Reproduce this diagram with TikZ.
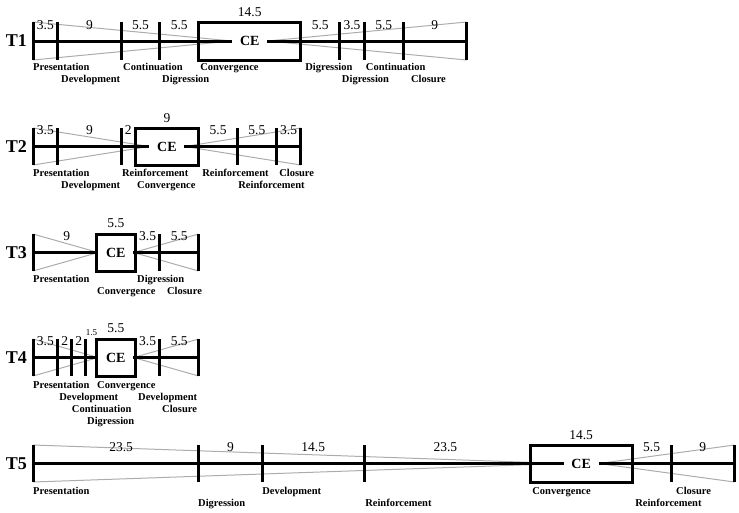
\documentclass[tikz,border=0pt]{standalone}
\usepackage{fontspec}
\setmainfont{Liberation Serif}
\usetikzlibrary{backgrounds}

\begin{document}
\begin{tikzpicture}[x=7.05pt, y=-1pt,
    bar/.style={line width=3pt},
    funnel/.style={gray!65, line width=1pt},
    num/.style={font=\fontsize{13.5}{14}\selectfont, inner sep=0pt},
    part/.style={font=\bfseries\fontsize{10.5}{11}\selectfont, anchor=base west, inner sep=0pt},
    ce/.style={fill=white, font=\bfseries\fontsize{14}{15}\selectfont, minimum width=35pt, inner sep=1pt},
    tl/.style={font=\bfseries\fontsize{18}{20}\selectfont, anchor=east, inner sep=0pt}]
    \useasboundingbox (-4.681,0) rectangle (100.14,512);
    % T1
    \node[tl] (t1) at (-0.85,41) {T1};
    \draw[bar](0,41)--(61.5,41);
    \draw[bar](0,22)--(0,60) (3.5,22)--(3.5,60) (12.5,22)--(12.5,60) (18,22)--(18,60);
    \draw[bar](43.5,22)--(43.5,60) (47,22)--(47,60) (52.5,22)--(52.5,60) (61.5,22)--(61.5,60);
    \draw[bar](23.5,22) rectangle (38,60);
    \node[ce] (ce1) at (30.75,41) {CE};
    \begin{pgfonlayer}{background}
    \draw[funnel](0,22)--(ce1.west)--(0,60);
    \draw[funnel](61.5,22)--(ce1.east)--(61.5,60);
    \end{pgfonlayer}
    \node[num] at (1.75,25) {3.5};
    \node[num] at (8,25) {9};
    \node[num] at (15.25,25) {5.5};
    \node[num] at (20.75,25) {5.5};
    \node[num] at (30.75,12.5) {14.5};
    \node[num] at (40.75,25) {5.5};
    \node[num] at (45.25,25) {3.5};
    \node[num] at (49.75,25) {5.5};
    \node[num] at (57,25) {9};
    \node[part] at (0,70.5) {Presentation};
    \node[part] at (3.97,82.8) {Development};
    \node[part] at (12.77,70.5) {Continuation};
    \node[part] at (18.3,82.8) {Digression};
    \node[part] at (23.7,70.5) {Convergence};
    \node[part] at (38.6,70.5) {Digression};
    \node[part] at (43.8,82.8) {Digression};
    \node[part] at (47.2,70.5) {Continuation};
    \node[part] at (53.6,82.8) {Closure};
    % T2
    \node[tl] (t2) at (-0.85,146.5) {T2};
    \draw[bar](0,146.5)--(38,146.5);
    \draw[bar](0,128)--(0,165) (3.5,128)--(3.5,165) (12.5,128)--(12.5,165);
    \draw[bar](29,128)--(29,165) (34.5,128)--(34.5,165) (38,128)--(38,165);
    \draw[bar](14.5,128) rectangle (23.5,165);
    \node[ce] (ce2) at (19,146.5) {CE};
    \begin{pgfonlayer}{background}
    \draw[funnel](0,128)--(ce2.west)--(0,165);
    \draw[funnel](38,128)--(ce2.east)--(38,165);
    \end{pgfonlayer}
    \node[num] at (1.75,130.5) {3.5};
    \node[num] at (8,130.5) {9};
    \node[num] at (13.5,130.5) {2};
    \node[num] at (19,118) {9};
    \node[num] at (26.25,130.5) {5.5};
    \node[num] at (31.75,130.5) {5.5};
    \node[num] at (36.25,130.5) {3.5};
    \node[part] at (0,176) {Presentation};
    \node[part] at (3.97,188.3) {Development};
    \node[part] at (12.6,176) {Reinforcement};
    \node[part] at (14.75,188.3) {Convergence};
    \node[part] at (24,176) {Reinforcement};
    \node[part] at (29.1,188.3) {Reinforcement};
    \node[part] at (34.9,176) {Closure};
    % T3
    \node[tl] (t3) at (-0.85,252.5) {T3};
    \draw[bar](0,252.5)--(23.5,252.5);
    \draw[bar](0,234)--(0,271) (18,234)--(18,271) (23.5,234)--(23.5,271);
    \draw[bar](9,234) rectangle (14.5,271);
    \node[ce] (ce3) at (11.75,252.5) {CE};
    \begin{pgfonlayer}{background}
    \draw[funnel](0,234)--(ce3.west)--(0,271);
    \draw[funnel](23.5,234)--(ce3.east)--(23.5,271);
    \end{pgfonlayer}
    \node[num] at (4.8,236.5) {9};
    \node[num] at (11.75,223.5) {5.5};
    \node[num] at (16.25,236.5) {3.5};
    \node[num] at (20.75,236.5) {5.5};
    \node[part] at (0,282) {Presentation};
    \node[part] at (9.08,294.3) {Convergence};
    \node[part] at (14.75,282) {Digression};
    \node[part] at (19,294.3) {Closure};
    % T4
    \node[tl] (t4) at (-0.85,357.5) {T4};
    \draw[bar](0,357.5)--(23.5,357.5);
    \draw[bar](0,339)--(0,376) (3.5,339)--(3.5,376) (5.5,339)--(5.5,376) (7.5,339)--(7.5,376);
    \draw[bar](18,339)--(18,376) (23.5,339)--(23.5,376);
    \draw[bar](9,339) rectangle (14.5,376);
    \node[ce] (ce4) at (11.75,357.5) {CE};
    \begin{pgfonlayer}{background}
    \draw[funnel](0,339)--(ce4.west)--(0,376);
    \draw[funnel](23.5,339)--(ce4.east)--(23.5,376);
    \end{pgfonlayer}
    \node[num] at (1.75,341.5) {3.5};
    \node[num] at (4.5,341.5) {2};
    \node[num] at (6.5,341.5) {2};
    \node[num, font=\fontsize{9}{10}\selectfont] at (8.3,333) {1.5};
    \node[num] at (11.75,328.5) {5.5};
    \node[num] at (16.25,341.5) {3.5};
    \node[num] at (20.75,341.5) {5.5};
    \node[part] at (0,388) {Presentation};
    \node[part] at (3.7,400.3) {Development};
    \node[part] at (5.5,412.6) {Continuation};
    \node[part] at (7.66,424.9) {Digression};
    \node[part] at (9.08,388) {Convergence};
    \node[part] at (14.9,400.3) {Development};
    \node[part] at (18.3,412.6) {Closure};
    % T5
    \node[tl] (t5) at (-0.85,463.5) {T5};
    \draw[bar](0,463.5)--(99.5,463.5);
    \draw[bar](0,445)--(0,482) (23.5,445)--(23.5,482) (32.5,445)--(32.5,482) (47,445)--(47,482);
    \draw[bar](90.5,445)--(90.5,482) (99.5,445)--(99.5,482);
    \draw[bar](70.5,445) rectangle (85,482);
    \node[ce] (ce5) at (77.75,463.5) {CE};
    \begin{pgfonlayer}{background}
    \draw[funnel](0,445)--(ce5.west)--(0,482);
    \draw[funnel](99.5,445)--(ce5.east)--(99.5,482);
    \end{pgfonlayer}
    \node[num] at (12.5,447.5) {23.5};
    \node[num] at (28,447.5) {9};
    \node[num] at (39.75,447.5) {14.5};
    \node[num] at (58.5,447.5) {23.5};
    \node[num] at (77.75,435) {14.5};
    \node[num] at (87.75,447.5) {5.5};
    \node[num] at (95,447.5) {9};
    \node[part] at (0,494) {Presentation};
    \node[part] at (23.4,506.3) {Digression};
    \node[part] at (32.5,494) {Development};
    \node[part] at (47.1,506.3) {Reinforcement};
    \node[part] at (70.8,494) {Convergence};
    \node[part] at (85.4,506.3) {Reinforcement};
    \node[part] at (91.2,494) {Closure};
\end{tikzpicture}
\end{document}
